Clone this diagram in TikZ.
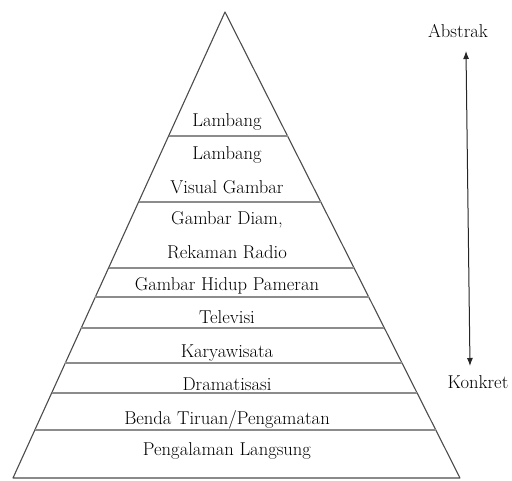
\documentclass[tikz,border=0pt]{standalone}
\usetikzlibrary{arrows.meta, calc, positioning}
\tikzstyle{level} = [anchor=base, inner sep=0pt, font=\fontsize{18.6}{18.6}\selectfont]
\tikzstyle{edge} = [draw=black!70, line width=1.1pt, line join=round]
\tikzstyle{divider} = [draw=black!45, line width=1.6pt]
\tikzstyle{arrow} = [line width=1pt, draw=black!85, {Latex[length=8pt,width=6pt]}-{Latex[length=8pt,width=6pt]}]

\begin{document}
\begin{tikzpicture}[x=1pt, y=-1pt]
	\useasboundingbox (0,0) rectangle (512,480);
	\coordinate (top) at (225,12);
	\coordinate (bl) at (13,478);
	\coordinate (br) at (460,478);
	\draw [edge] (bl) -- (top) -- (br) -- cycle;
	\foreach \pos in {0.266,0.408,0.549,0.612,0.678,0.753,0.818,0.897}
		\draw [divider] ($(top)!\pos!(bl)$) -- ($(top)!\pos!(br)$);
	\node (lambang) [level] at (227,126) {Lambang};
	\node (lambangb) [level] at (227,159) {Lambang};
	\node (visual) [level] at (227,193) {Visual Gambar};
	\node (diam) [level] at (227,224) {Gambar Diam,};
	\node (radio) [level] at (227,258) {Rekaman Radio};
	\node (hidup) [level] at (227,290) {Gambar Hidup Pameran};
	\node (tv) [level] at (227,323) {Televisi};
	\node (karya) [level] at (227,357) {Karyawisata};
	\node (drama) [level] at (227,390) {Dramatisasi};
	\node (benda) [level] at (227,424) {Benda Tiruan/Pengamatan};
	\node (langsung) [level] at (227,455) {Pengalaman Langsung};
	\node (abstrak) [level] at (458,37) {Abstrak};
	\node (konkret) [level] at (478,388) {Konkret};
	\coordinate (abstip) at (466,51);
	\coordinate (kontip) at (470,366);
	\draw [arrow] (kontip) -- (abstip);
\end{tikzpicture}
\end{document}
